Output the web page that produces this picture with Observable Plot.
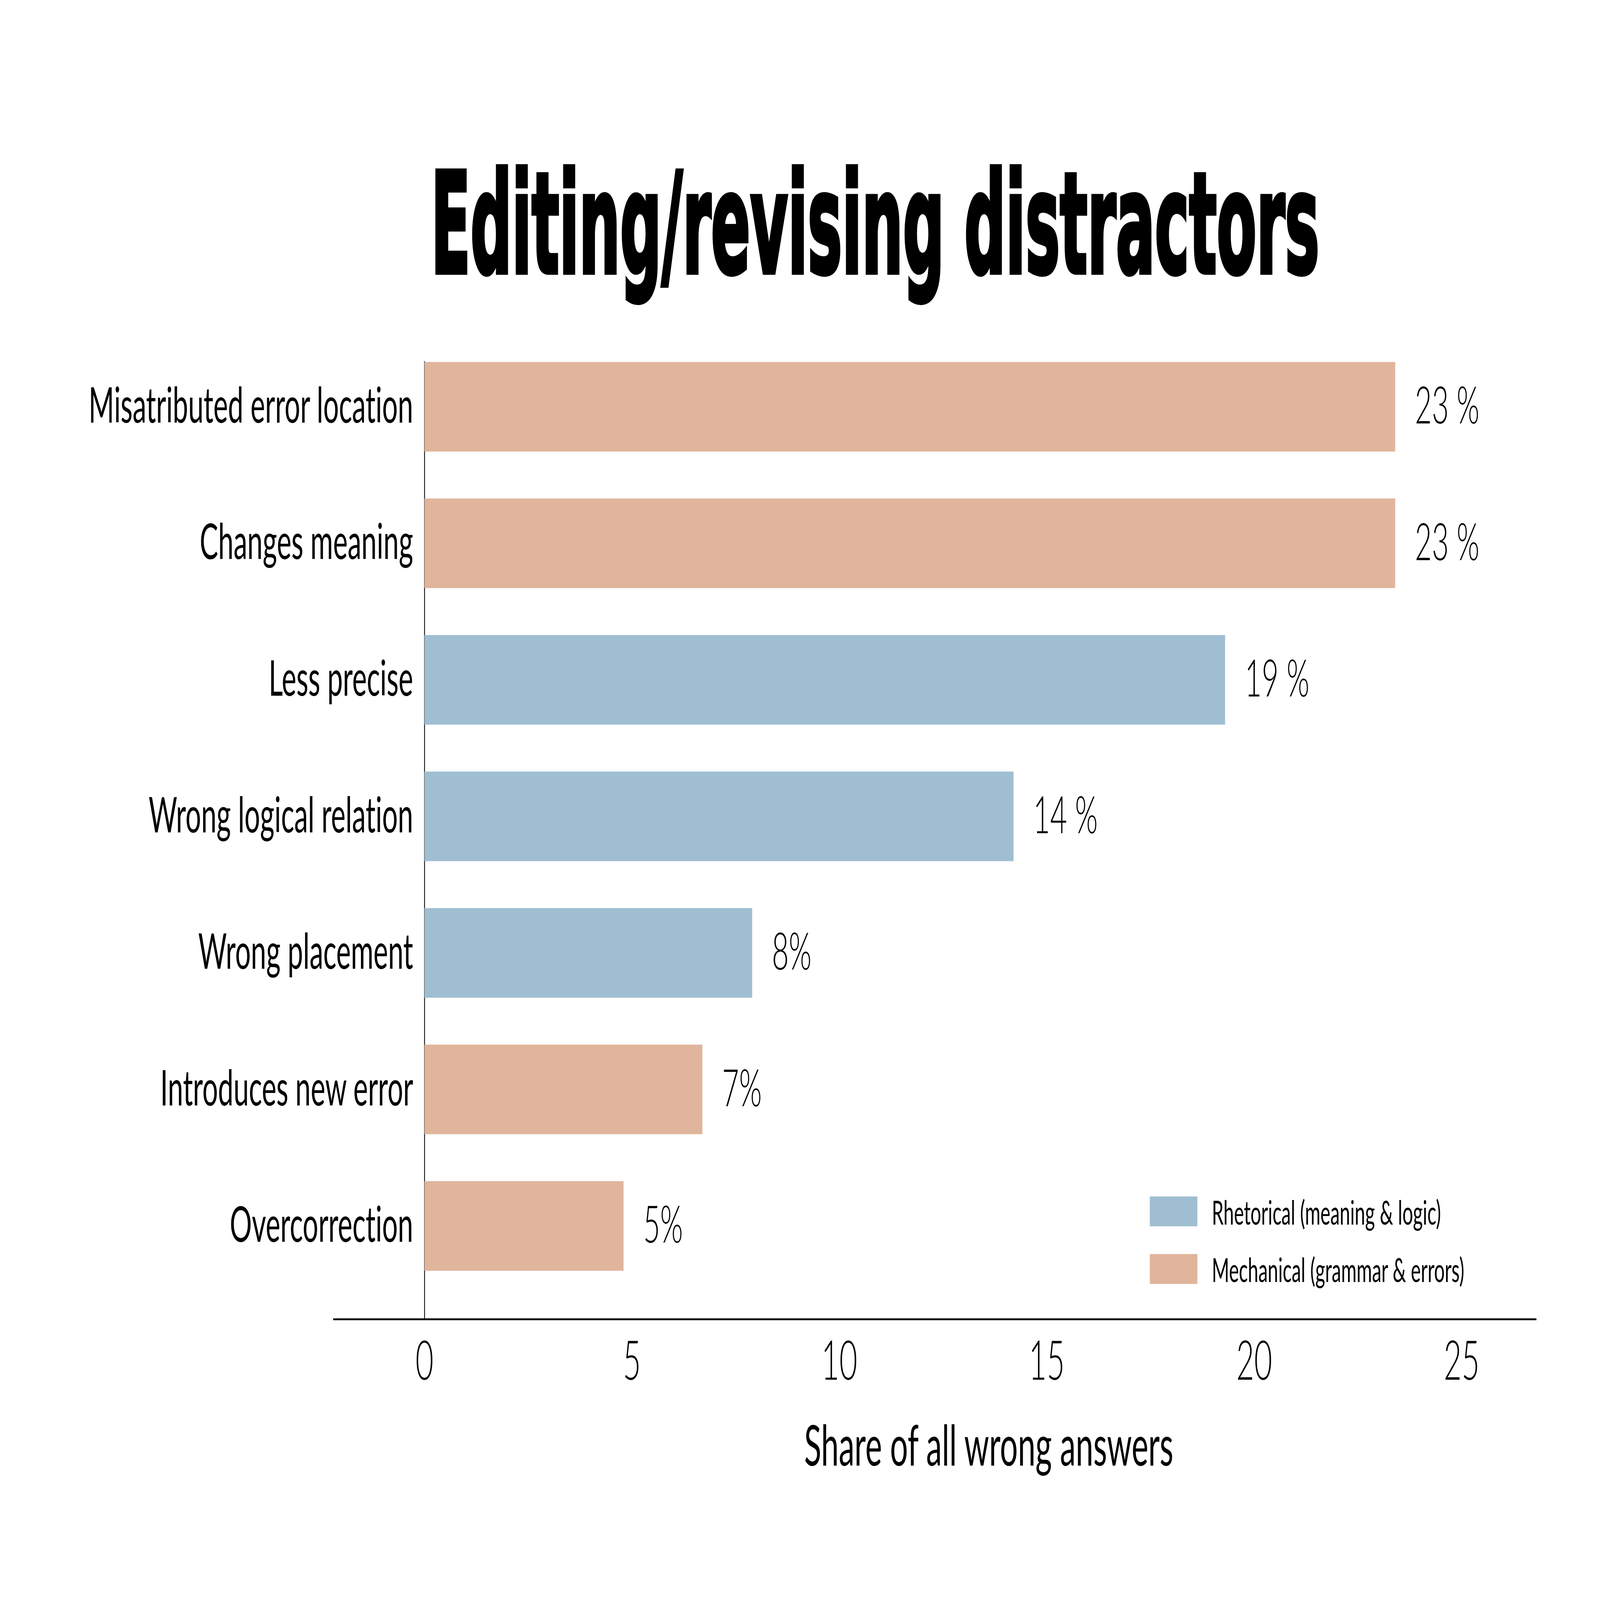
<!DOCTYPE html>
<html>
<head>
<meta charset="utf-8">
<script src="https://cdn.jsdelivr.net/npm/d3@7"></script>
<script src="https://cdn.jsdelivr.net/npm/@observablehq/plot@0.6"></script>
<style>
  html, body { margin: 0; padding: 0; background: #fff; overflow: hidden; }
  #page { position: absolute; left: 0; top: 0; width: 8000px; height: 4500px; overflow: hidden; background: #fff; transform-origin: 0 0; }
  #titlebox { position: absolute; left: 0; top: 0; width: 8000px; height: 860px; }
  #title {
    position: absolute; left: 4376px; top: 0; white-space: nowrap;
    font-family: "Liberation Sans Narrow", "DejaVu Sans Condensed", "Roboto Condensed", sans-serif;
    font-weight: 700; font-size: 394px; line-height: 1; color: #000; margin: 0;
    -webkit-text-stroke: 12px #000; transform-origin: 50% 50%;
  }
  #chart { position: absolute; left: 0; top: 860px; }
  #chart svg text { font-variant-ligatures: none; }
  #legend { position: absolute; left: 5749px; top: 3365px; font-family: Lato, "Open Sans", sans-serif; }
  .lrow { display: flex; align-items: center; height: 84px; margin-bottom: 78px; }
  .lsw { width: 238px; height: 84px; margin-right: 72px; flex: none; }
  .ltx { font-size: 94px; color: #000; white-space: nowrap; font-variant-ligatures: none; }
</style>
</head>
<body>
<div id="page">
  <div id="titlebox"><h1 id="title"></h1></div>
  <div id="chart"></div>
  <div id="legend"></div>
</div>
<script>
// ---- data ----
const titleText = "Editing/revising distractors";
const xLabel = "Share of all wrong answers";
const categories = [
  "Misatributed error location",
  "Changes meaning",
  "Less precise",
  "Wrong logical relation",
  "Wrong placement",
  "Introduces new error",
  "Overcorrection"
];
const values = [23.4, 23.4, 19.3, 14.2, 7.9, 6.7, 4.8];
const valueLabels = ["23 %", "23 %", "19 %", "14 %", "8%", "7%", "5%"];
const types = ["Mechanical", "Mechanical", "Rhetorical", "Rhetorical", "Rhetorical", "Mechanical", "Mechanical"];
const typeDomain = ["Rhetorical", "Mechanical"];
const typeLabels = ["Rhetorical (meaning & logic)", "Mechanical (grammar & errors)"];
const typeColors = ["#9fbed1", "#e0b59c"];
const xTicks = [0, 5, 10, 15, 20, 25];
const xDomain = [-2.19, 26.79];

const data = categories.map((c, i) => ({category: c, value: values[i], label: valueLabels[i], type: types[i]}));

// ---- title ----
const titleEl = document.getElementById("title");
titleEl.textContent = titleText;
const targetW = 4441;
const w0 = titleEl.offsetWidth;
const k = w0 > 0 ? targetW / w0 : 1;
titleEl.style.transform = `translateX(-50%) scaleX(${k})`;
titleEl.style.top = (769 - 0.85 * 394) + "px";

// ---- chart ----
const font = "Lato, 'Open Sans', sans-serif";
const chart = Plot.plot({
  width: 8000,
  height: 3640,
  marginTop: 22,
  marginBottom: 790,
  marginLeft: 1668,
  marginRight: 321,
  style: {fontFamily: font, background: "#fff", color: "#000"},
  x: {domain: xDomain},
  y: {domain: categories, paddingInner: 0.344, paddingOuter: 0.35, axis: null},
  color: {domain: typeDomain, range: typeColors},
  marks: [
    Plot.ruleX([0], {stroke: "#000", strokeWidth: 4, insetTop: 134}),
    Plot.frame({anchor: "bottom", stroke: "#000", strokeWidth: 5}),
    Plot.barX(data, {x: "value", y: "category", fill: "type"}),
    Plot.text(data, {x: "value", y: "category", text: "label", textAnchor: "start", dx: 98, fontSize: 146, fontWeight: 300, fill: "#000"}),
    Plot.text(data, {x: 0, y: "category", text: "category", textAnchor: "end", dx: -57, fontSize: 138, fill: "#000"}),
    Plot.axisX({ticks: xTicks, tickSize: 0, tickPadding: 60, fontSize: 155, fontWeight: 300, label: null, tickFormat: d => String(d)}),
    Plot.text([xLabel], {frameAnchor: "bottom", dx: 270, dy: 412, lineAnchor: "bottom", fontSize: 158, fill: "#000"})
  ]
});
document.getElementById("chart").appendChild(chart);

// ---- legend ----
const legend = document.getElementById("legend");
typeDomain.forEach((t, i) => {
  const row = document.createElement("div");
  row.className = "lrow";
  const sw = document.createElement("div");
  sw.className = "lsw";
  sw.style.background = typeColors[i];
  const tx = document.createElement("div");
  tx.className = "ltx";
  tx.textContent = typeLabels[i];
  row.appendChild(sw); row.appendChild(tx);
  legend.appendChild(row);
});

// ---- fit the 8000x4500 design into the actual window ----
function fit() {
  const W = window.innerWidth || 8000, H = window.innerHeight || 4500;
  document.getElementById("page").style.transform = `scale(${W / 8000}, ${H / 4500})`;
}
fit();
window.addEventListener("resize", fit);
</script>
</body>
</html>
